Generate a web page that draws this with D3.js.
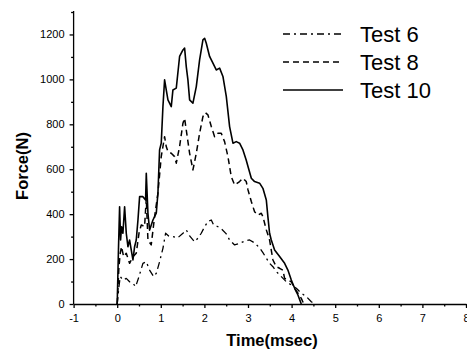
<!DOCTYPE html>
<html>
<head>
<meta charset="utf-8">
<script src="https://cdn.jsdelivr.net/npm/d3@7"></script>
<style>
    html, body { margin: 0; padding: 0; background: #fff; }
    svg { display: block; font-family: "Liberation Sans", Arial, sans-serif; }
    .axis path, .axis line { stroke: #000; stroke-width: 1.3px; }
    .axis text { font-size: 11px; fill: #000; }
</style>
</head>
<body>
<svg></svg>
<script>
;(() => {

    // [time (msec), force (N)]
    const test6 = [[0,0],[0.04,77],[0.07,122],[0.131,107],[0.208,114],[0.284,99],[0.361,92],[0.422,77],[0.5,122],[0.59,181],[0.667,188],[0.743,151],[0.835,122],[0.897,137],[0.972,188],[1.049,248],[1.11,315],[1.18,303],[1.278,300],[1.385,294],[1.508,315],[1.584,330],[1.661,303],[1.775,277],[1.851,293],[1.928,315],[2.005,344],[2.081,367],[2.158,374],[2.211,352],[2.31,344],[2.394,334],[2.502,312],[2.578,285],[2.693,263],[2.807,270],[2.922,280],[3.037,285],[3.151,272],[3.266,250],[3.342,229],[3.42,204],[3.495,181],[3.572,166],[3.65,144],[3.764,122],[3.878,99],[3.993,85],[4.108,70],[4.222,48],[4.337,33],[4.452,10],[4.528,0]];
    const test8 = [[0,0],[0.04,166],[0.07,226],[0.1,255],[0.147,211],[0.208,226],[0.284,181],[0.361,211],[0.437,226],[0.5,315],[0.552,352],[0.628,345],[0.667,470],[0.705,285],[0.78,263],[0.858,389],[0.934,493],[1.01,656],[1.087,745],[1.125,701],[1.164,678],[1.24,671],[1.317,656],[1.355,627],[1.431,701],[1.508,805],[1.546,827],[1.584,775],[1.661,671],[1.737,597],[1.814,671],[1.89,760],[1.966,834],[2.02,852],[2.081,842],[2.158,790],[2.234,745],[2.31,760],[2.387,760],[2.463,723],[2.54,656],[2.616,567],[2.693,530],[2.807,545],[2.884,560],[2.96,545],[3.0,508],[3.076,456],[3.151,411],[3.227,396],[3.305,404],[3.342,389],[3.42,330],[3.495,285],[3.534,240],[3.572,196],[3.65,166],[3.725,159],[3.8,151],[3.84,114],[3.915,107],[3.993,99],[4.07,70],[4.145,48],[4.222,25],[4.28,0]];
    const test10 = [[0,0],[0.03,250],[0.055,433],[0.078,285],[0.1,344],[0.131,315],[0.17,433],[0.208,315],[0.246,255],[0.284,285],[0.323,240],[0.361,196],[0.399,255],[0.437,285],[0.476,374],[0.514,478],[0.59,478],[0.651,463],[0.667,582],[0.705,404],[0.743,329],[0.82,374],[0.896,404],[0.934,493],[0.972,686],[1.01,716],[1.049,879],[1.087,998],[1.125,953],[1.164,909],[1.24,879],[1.278,953],[1.355,961],[1.431,1102],[1.508,1131],[1.546,1139],[1.584,1057],[1.622,998],[1.661,909],[1.737,894],[1.814,968],[1.89,1087],[1.966,1176],[2.005,1183],[2.043,1161],[2.119,1102],[2.196,1072],[2.272,1042],[2.349,1050],[2.425,1013],[2.502,924],[2.578,790],[2.655,716],[2.731,723],[2.807,716],[2.884,686],[2.96,640],[3.0,612],[3.076,560],[3.151,545],[3.266,538],[3.342,515],[3.42,463],[3.456,389],[3.495,315],[3.534,285],[3.61,240],[3.725,211],[3.84,181],[3.915,151],[3.993,107],[4.07,70],[4.145,40],[4.222,0]];

    const seriesNames = ['Test 6', 'Test 8', 'Test 10'];
    const xTicks = [-1, 0, 1, 2, 3, 4, 5, 6, 7, 8];
    const yTicks = [0, 200, 400, 600, 800, 1000, 1200];

    const renderWidth = 467;
    const renderHeight = 354;
    // dash styles per series, same order as seriesNames
    const dashes = ['7,4,2,4', '6,4', null];
    const strokeWidths = [1.3, 1.5, 1.6];
    // plain labels: hyphen for minus, no thousands separator
    const plainFormat = d => String(d);

    const svg = d3.select('svg')
        .attr('width', renderWidth)
        .attr('height', renderHeight);

    const x = d3.scaleLinear().domain([-1, 8]).range([73.6, 466]);
    const y = d3.scaleLinear().domain([0, 1300]).range([304, 12]);

    // minor ticks first (no labels)
    svg.append('g')
        .attr('class', 'axis')
        .attr('transform', `translate(0,${y(0)})`)
        .call(d3.axisBottom(x).tickValues(d3.range(-0.5, 8, 1)).tickSize(2.5).tickFormat(''))
        .select('.domain').remove();
    svg.append('g')
        .attr('class', 'axis')
        .attr('transform', `translate(${x(-1)},0)`)
        .call(d3.axisLeft(y).tickValues(d3.range(100, 1400, 200)).tickSize(2.5).tickFormat(''))
        .select('.domain').remove();

    svg.append('g')
        .attr('class', 'axis')
        .attr('transform', `translate(0,${y(0)})`)
        .call(d3.axisBottom(x).tickValues(xTicks).tickSize(4).tickSizeOuter(0).tickPadding(6).tickFormat(plainFormat));

    const yAxisG = svg.append('g')
        .attr('class', 'axis')
        .attr('transform', `translate(${x(-1)},0)`)
        .call(d3.axisLeft(y).tickValues(yTicks).tickSize(4).tickSizeOuter(0).tickPadding(5).tickFormat(plainFormat));

    // y axis line runs up to the top of the frame
    yAxisG.select('.domain').attr('d', `M0,${y(0)}V11`);

    // axis titles
    svg.append('text')
        .attr('x', 272)
        .attr('y', 346)
        .attr('text-anchor', 'middle')
        .style('font-size', '16.5px')
        .style('font-weight', 'bold')
        .text('Time(msec)');
    svg.append('text')
        .attr('transform', 'translate(28,166) rotate(-90)')
        .attr('text-anchor', 'middle')
        .style('font-size', '16.5px')
        .style('font-weight', 'bold')
        .text('Force(N)');

    const line = d3.line()
        .x(d => x(d[0]))
        .y(d => y(d[1]));

    [test6, test8, test10].forEach((data, i) => {
        svg.append('path')
            .datum(data)
            .attr('fill', 'none')
            .attr('stroke', '#000')
            .attr('stroke-width', strokeWidths[i])
            .attr('stroke-linejoin', 'round')
            .attr('stroke-dasharray', dashes[i])
            .attr('d', line);
    });

    // legend
    const legend = svg.append('g');
    seriesNames.forEach((name, i) => {
        const ly = 34 + i * 28;
        legend.append('line')
            .attr('x1', 283).attr('x2', 343)
            .attr('y1', ly).attr('y2', ly)
            .attr('stroke', '#000')
            .attr('stroke-width', strokeWidths[i])
            .attr('stroke-dasharray', dashes[i]);
        legend.append('text')
            .attr('x', 360)
            .attr('y', ly + 8)
            .style('font-size', '22px')
            .text(name);
    });

})();
</script>
</body>
</html>
